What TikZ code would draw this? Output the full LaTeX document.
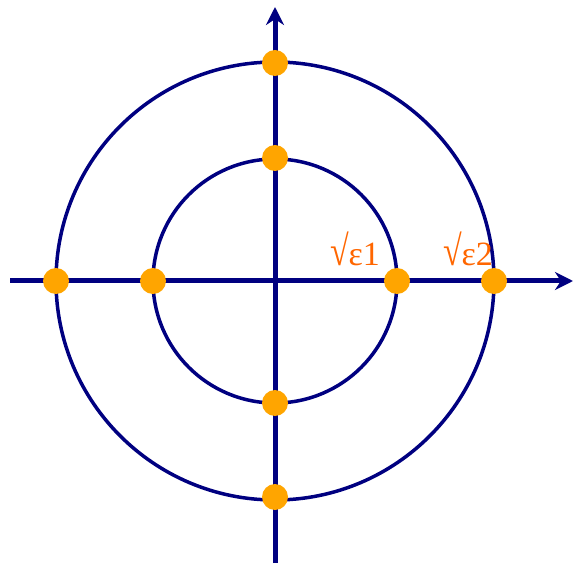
\documentclass[tikz,border=0pt]{standalone}
\usepackage{fontspec}
\newfontfamily\labelfont{Liberation Serif}
\usetikzlibrary{arrows.meta, positioning}

\definecolor{axisblue}{RGB}{0,0,128}
\definecolor{dotorange}{RGB}{255,165,0}
\definecolor{labelorange}{RGB}{255,102,0}

\begin{document}
\begin{tikzpicture}[
        x=1pt, y=1pt,
        axis/.style={line width=5pt, draw=axisblue, -{Stealth[length=18pt, width=18pt]}},
        ring/.style={line width=3.5pt, draw=axisblue},
        root/.style={circle, fill=dotorange, inner sep=0pt, minimum size=26pt},
        rootlabel/.style={text=labelorange, font=\labelfont\fontsize{34}{34}\selectfont, inner sep=0pt, anchor=base}
    ]
    \useasboundingbox (0,0) rectangle (573,563);

    \coordinate (o) at (275,282);
    \coordinate (xl) at (10,282);
    \coordinate (xr) at (573,282);
    \coordinate (yb) at (275,0);
    \coordinate (yt) at (275,556);

    % axes
    \draw[axis] (xl) -- (xr);
    \draw[axis] (yb) -- (yt);

    % circles
    \draw[ring] (o) circle[radius=122];
    \draw[ring] (o) circle[radius=219];

    % roots on the circles
    \node[root] (r1e) at (397,282) {};
    \node[root] (r1n) at (275,405) {};
    \node[root] (r1w) at (153,282) {};
    \node[root] (r1s) at (275,160) {};
    \node[root] (r2e) at (494,282) {};
    \node[root] (r2n) at (275,500) {};
    \node[root] (r2w) at (56,282) {};
    \node[root] (r2s) at (275,66) {};

    \node[rootlabel] (eps1) at (355,297) {\scalebox{1}[1.25]{√}ε1};
    \node[rootlabel] (eps2) at (468,297) {\scalebox{1}[1.25]{√}ε2};
\end{tikzpicture}
\end{document}
